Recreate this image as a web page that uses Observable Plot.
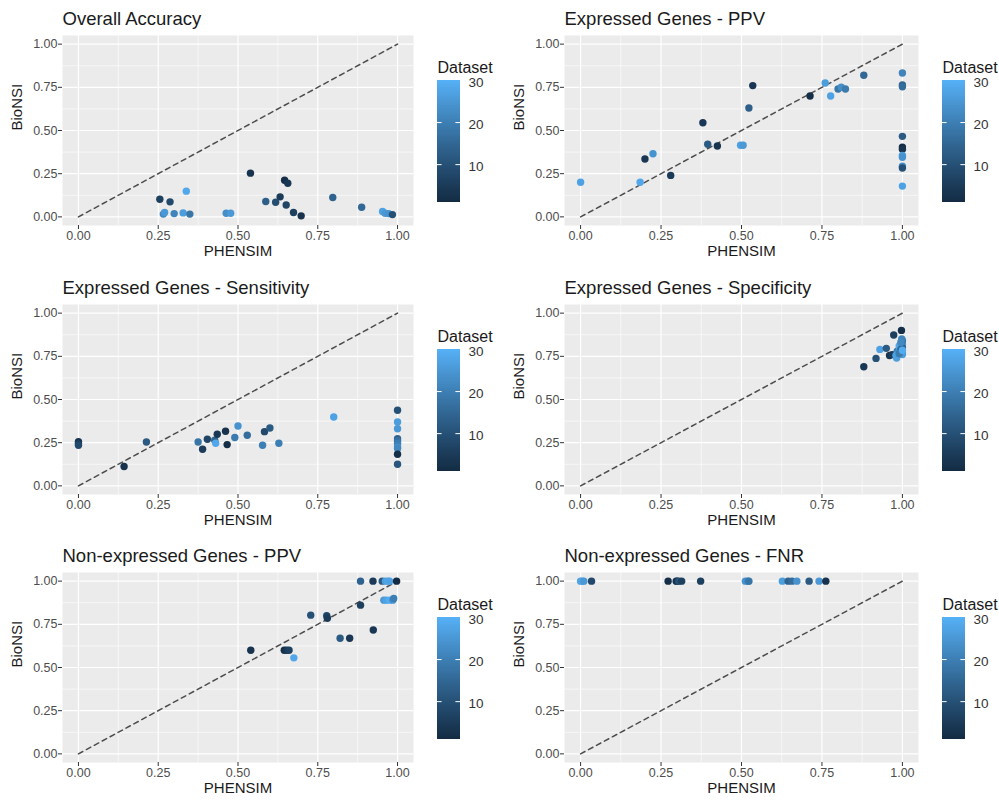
<!DOCTYPE html>
<html><head><meta charset="utf-8">
<script src="https://cdn.jsdelivr.net/npm/d3@7"></script>
<script src="https://cdn.jsdelivr.net/npm/@observablehq/plot@0.6"></script>
<style>
body{margin:0;background:#fff;}
#root{position:relative;width:999px;height:803px;overflow:hidden;background:#fff;font-family:"Liberation Sans",Arial,Helvetica,sans-serif;}
#root svg{position:absolute;overflow:visible;}
</style></head><body><div id="root"></div>
<script>
// ---------- data ----------
const titles = ["Overall Accuracy","Expressed Genes - PPV","Expressed Genes - Sensitivity","Expressed Genes - Specificity","Non-expressed Genes - PPV","Non-expressed Genes - FNR"];
const xLabel = "PHENSIM";
const yLabel = "BioNSI";
const legendTitle = "Dataset";
const majorBreaks = [0, 0.25, 0.5, 0.75, 1];
const minorBreaks = [0.125, 0.375, 0.625, 0.875];
const legendLabels = [10, 20, 30];
const legendTicks = [10, 20];
const refLine = [0, 1];

const accX  = [0.255,0.287,0.338,0.266,0.27,0.30,0.328,0.349,0.463,0.477,0.539,0.646,0.656,0.632,0.587,0.618,0.651,0.674,0.698,0.797,0.8875,0.953,0.961,0.972,0.984];
const accY  = [0.102,0.087,0.149,0.016,0.025,0.019,0.023,0.016,0.021,0.021,0.253,0.212,0.195,0.116,0.089,0.085,0.069,0.025,0.006,0.112,0.056,0.031,0.021,0.019,0.013];
const accId = [6,8,28,22,25,21,26,18,23,25,3,2,4,5,13,9,7,6,3,14,15,27,25,24,10];

const ppvX  = [0,0.185,0.225,0.20,0.28,0.38,0.395,0.425,0.497,0.505,0.523,0.535,0.713,0.76,0.777,0.80,0.81,0.823,0.88,1,1,1,1,1,1,1,1,1,1,1];
const ppvY  = [0.20,0.20,0.365,0.335,0.24,0.545,0.42,0.41,0.415,0.415,0.63,0.76,0.70,0.775,0.70,0.74,0.75,0.74,0.82,0.833,0.763,0.753,0.466,0.404,0.392,0.356,0.345,0.293,0.283,0.178];
const ppvId = [27,28,24,4,5,4,12,3,27,25,13,4,2,26,27,18,23,19,15,21,14,16,12,1,3,26,24,23,10,27];

const senX  = [0,0,0,0.143,0.213,0.375,0.389,0.404,0.427,0.43,0.435,0.461,0.466,0.49,0.50,0.529,0.577,0.583,0.60,0.628,0.80,1,1,1,1,1,1,1,1,1,1];
const senY  = [0.255,0.245,0.235,0.112,0.254,0.254,0.212,0.27,0.264,0.247,0.299,0.316,0.239,0.28,0.347,0.293,0.235,0.314,0.335,0.247,0.399,0.438,0.37,0.331,0.273,0.26,0.245,0.225,0.216,0.183,0.125];
const senId = [3,5,8,3,12,18,5,7,14,28,4,3,2,19,24,16,20,8,12,20,27,10,26,25,14,17,20,23,22,2,11];

const speX  = [0.88,0.918,0.93,0.95,0.96,0.968,0.973,0.997,0.982,0.984,0.985,0.99,0.995,1.0,1.0,0.998,0.99,1.0,0.995,1.0,0.98,0.99,1.0,0.995,1.0];
const speY  = [0.69,0.738,0.79,0.796,0.755,0.76,0.873,0.90,0.74,0.78,0.77,0.78,0.80,0.82,0.84,0.85,0.81,0.77,0.79,0.76,0.755,0.765,0.80,0.83,0.785];
const speId = [4,10,27,12,3,5,6,2,26,18,22,24,20,25,17,21,28,23,15,26,27,19,13,22,29];

const nppvX  = [0.54,0.645,0.653,0.66,0.675,0.728,0.778,0.78,0.82,0.85,0.884,0.924,0.884,0.923,0.952,0.962,0.97,0.975,0.997,0.957,0.965,0.975,0.985,0.988];
const nppvY  = [0.60,0.60,0.60,0.60,0.556,0.803,0.80,0.785,0.669,0.669,0.861,0.717,1,1,1,1,1,1,1,0.89,0.89,0.89,0.89,0.90];
const nppvId = [3,2,4,6,28,10,7,5,12,4,6,4,14,5,12,26,28,27,1,25,27,29,24,20];

const fnrX  = [0.0,0.005,0.01,0.034,0.272,0.297,0.30,0.305,0.314,0.373,0.512,0.52,0.523,0.627,0.645,0.657,0.672,0.71,0.741,0.762];
const fnrY  = [1,1,1,1,1,1,1,1,1,1,1,1,1,1,1,1,1,1,1,1];
const fnrId = [27,28,25,8,2,4,3,10,6,6,24,22,18,26,14,16,24,12,25,3];

// ---------- layout ----------
const FONT = '"Liberation Sans", Arial, Helvetica, sans-serif';
const color = {type: "linear", domain: [1, 30], range: ["#132B43", "#56B1F7"], interpolate: d3.interpolateLab};
const root = document.getElementById("root");

function panel(title, xs, ys, ids, left, top, width) {
  const data = xs.map((x, i) => ({x, y: ys[i], id: ids[i]}));
  const svg = Plot.plot({
    width, height: 265,
    marginLeft: 62, marginRight: 0, marginTop: 35, marginBottom: 40,
    x: {domain: [-0.05, 1.05]},
    y: {domain: [-0.05, 1.05]},
    color,
    style: {fontFamily: FONT, background: "transparent", overflow: "visible"},
    marks: [
      Plot.frame({fill: "#EBEBEB", stroke: "none"}),
      Plot.gridX(minorBreaks, {stroke: "white", strokeOpacity: 1, strokeWidth: 0.6}),
      Plot.gridY(minorBreaks, {stroke: "white", strokeOpacity: 1, strokeWidth: 0.6}),
      Plot.gridX(majorBreaks, {stroke: "white", strokeOpacity: 1, strokeWidth: 1.2}),
      Plot.gridY(majorBreaks, {stroke: "white", strokeOpacity: 1, strokeWidth: 1.2}),
      Plot.axisX(majorBreaks, {tickFormat: d3.format(".2f"), tickSize: 4, tickPadding: 2, fontSize: 12.5, fill: "#4D4D4D", stroke: "#333", label: null}),
      Plot.axisY(majorBreaks, {tickFormat: d3.format(".2f"), tickSize: 4, tickPadding: 1, fontSize: 12.5, fill: "#4D4D4D", stroke: "#333", label: null}),
      Plot.line(refLine, {x: d => d, y: d => d, stroke: "#4d4d4d", strokeWidth: 1.5, strokeDasharray: "5,4"}),
      Plot.dot(data, {x: "x", y: "y", fill: "id", r: 3.7}),
      Plot.text([title], {frameAnchor: "top-left", dy: -11, lineAnchor: "bottom", textAnchor: "start", text: d => d, fontSize: 18.5, fill: "#1a1a1a"}),
      Plot.text([xLabel], {frameAnchor: "bottom", dy: 30, text: d => d, fontSize: 15, fill: "#1a1a1a"}),
      Plot.text([yLabel], {frameAnchor: "left", dx: -45, rotate: -90, text: d => d, fontSize: 15, fill: "#1a1a1a"})
    ]
  });
  svg.style.left = left + "px";
  svg.style.top = top + "px";
  root.appendChild(svg);
}

function legend(left, top) {
  const stops = d3.range(1, 30, 0.25);
  const svg = Plot.plot({
    width: 63, height: 157,
    marginLeft: 0, marginRight: 40, marginTop: 30, marginBottom: 5,
    x: {domain: [0, 1], axis: null},
    y: {domain: [1, 30], axis: null},
    color,
    style: {fontFamily: FONT, background: "transparent", overflow: "visible"},
    marks: [
      Plot.rect(stops, {x1: 0, x2: 1, y1: d => d, y2: d => Math.min(30, d + 0.5), fill: d => d + 0.125, shapeRendering: "crispEdges"}),
      Plot.ruleY(legendTicks, {x1: 0, x2: 0.2, stroke: "white", strokeWidth: 1}),
      Plot.ruleY(legendTicks, {x1: 0.8, x2: 1, stroke: "white", strokeWidth: 1}),
      Plot.axisY(legendLabels, {anchor: "right", tickSize: 0, tickPadding: 8, fontSize: 13.5, fill: "#333", label: null, dy: 2}),
      Plot.text([legendTitle], {frameAnchor: "top-left", dy: -8, lineAnchor: "bottom", textAnchor: "start", text: d => d, fontSize: 16, fill: "#1a1a1a"})
    ]
  });
  svg.style.left = left + "px";
  svg.style.top = top + "px";
  root.appendChild(svg);
}

const rowTops = [0, 268.5, 537];
const sets = [
  [accX, accY, accId], [ppvX, ppvY, ppvId],
  [senX, senY, senId], [speX, speY, speId],
  [nppvX, nppvY, nppvId], [fnrX, fnrY, fnrId]
];
sets.forEach((s, i) => {
  const col = i % 2, row = Math.floor(i / 2);
  const left = col === 0 ? 0 : 502;
  const width = col === 0 ? 413 : 416;
  panel(titles[i], s[0], s[1], s[2], left, rowTops[row], width);
  legend(col === 0 ? 437 : 942, rowTops[row] + 35 + 45 - 30);
});
</script></body></html>
